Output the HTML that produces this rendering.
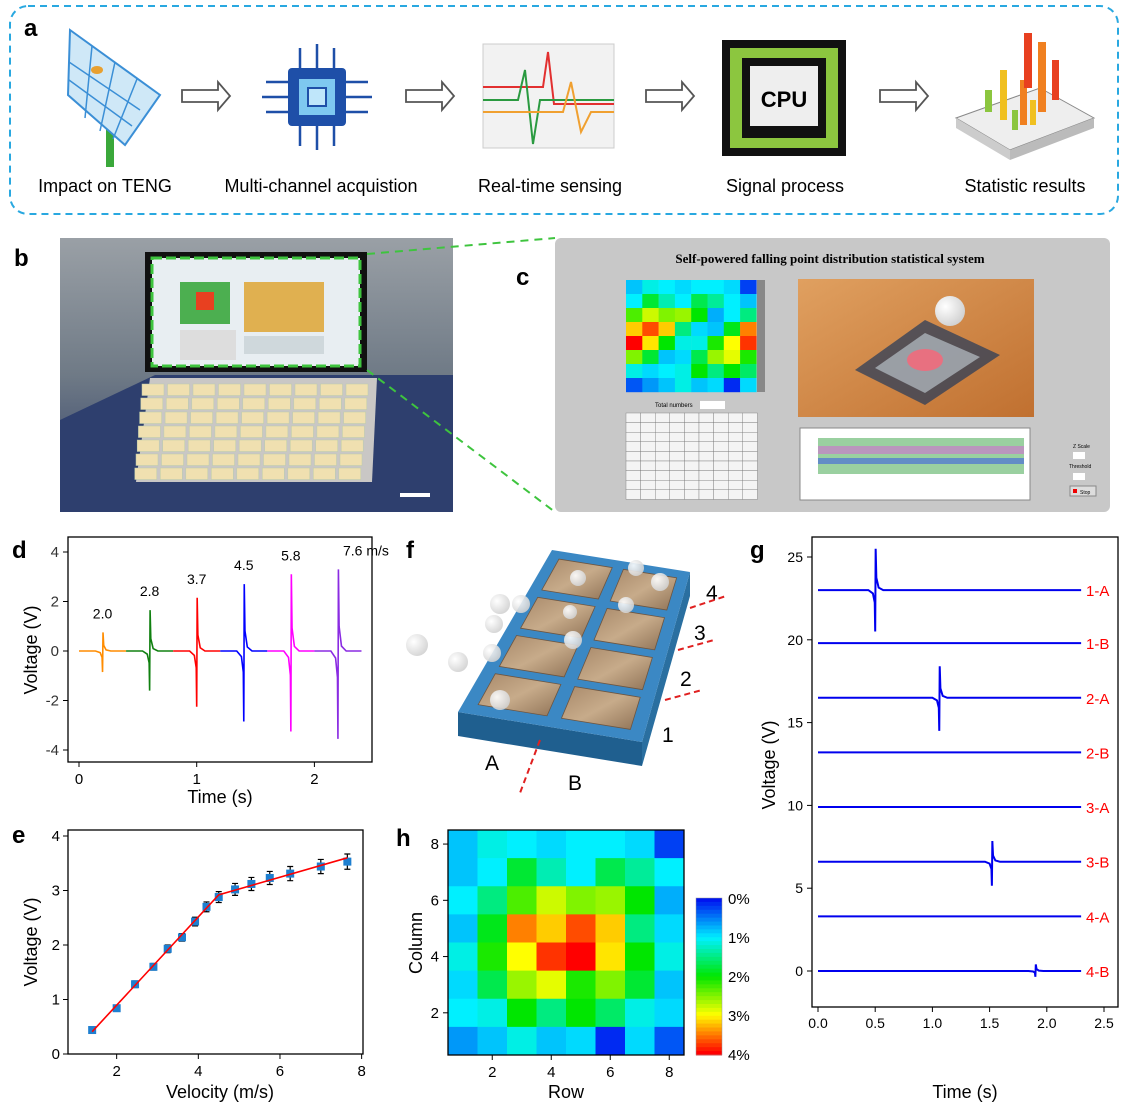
<!DOCTYPE html>
<html><head><meta charset="utf-8"><style>
body{margin:0;background:#fff;}
svg{display:block;font-family:"Liberation Sans",Arial,sans-serif;}
</style></head><body>
<svg id="fig" width="1125" height="1108" viewBox="0 0 1125 1108" xmlns="http://www.w3.org/2000/svg">
<defs>
<linearGradient id="wood" x1="0" y1="0" x2="1" y2="1"><stop offset="0" stop-color="#a8896a"/><stop offset="0.5" stop-color="#c7ab8a"/><stop offset="1" stop-color="#8f7256"/></linearGradient>
<radialGradient id="ball" cx="0.35" cy="0.35" r="0.7"><stop offset="0" stop-color="#fff"/><stop offset="1" stop-color="#d0d0d0"/></radialGradient>
<linearGradient id="photoBg" x1="0" y1="0" x2="0" y2="1"><stop offset="0" stop-color="#9aa0a6"/><stop offset="0.5" stop-color="#6f7a86"/><stop offset="1" stop-color="#2a3a66"/></linearGradient>
<linearGradient id="orangeImg" x1="0" y1="0" x2="1" y2="1"><stop offset="0" stop-color="#e0a060"/><stop offset="1" stop-color="#c07030"/></linearGradient>
</defs>

<!-- Panel a -->
<g>
<rect x="10" y="6" width="1108" height="208" rx="18" fill="none" stroke="#29a8e0" stroke-width="2" stroke-dasharray="7,5"/>
<text x="24" y="36" font-size="24" font-weight="bold">a</text>
<g>
<rect x="106" y="105" width="8" height="62" fill="#3aa83a"/>
<polygon points="70,30 160,95 125,145 68,95" fill="#cfe8f7" stroke="#3b8fd6" stroke-width="2"/>
<path d="M92,46 L85,118 M115,62 L100,131 M137,79 L113,139 M69,62 L140,110 M69,80 L132,126" stroke="#3b8fd6" stroke-width="1.5"/>
<ellipse cx="97" cy="70" rx="6" ry="4" fill="#e8a030"/>
</g>
<text x="105" y="192" font-size="18" text-anchor="middle">Impact on TENG</text>
<path d="M182,90 h36 v-8 l12,14 l-12,14 v-8 h-36z" fill="none" stroke="#555" stroke-width="1.8"/>
<g>
<rect x="288" y="68" width="58" height="58" rx="4" fill="#1e4fa8"/>
<rect x="298" y="78" width="38" height="38" fill="#7ec8f0" stroke="#1e4fa8" stroke-width="2"/>
<rect x="308" y="88" width="18" height="18" fill="#bfe6fa" stroke="#1e4fa8" stroke-width="2"/>
<path d="M300,68 v-20 M317,68 v-24 M334,68 v-20 M300,126 v20 M317,126 v24 M334,126 v20 M288,82 h-22 M288,97 h-26 M288,112 h-22 M346,82 h22 M346,97 h26 M346,112 h22" stroke="#1e4fa8" stroke-width="2.5"/>
</g>
<text x="321" y="192" font-size="18" text-anchor="middle">Multi-channel acquistion</text>
<path d="M406,90 h36 v-8 l12,14 l-12,14 v-8 h-36z" fill="none" stroke="#555" stroke-width="1.8"/>
<g>
<rect x="483" y="44" width="131" height="104" fill="#f2f2f2" stroke="#ccc"/>
<path d="M483,87 h60 l5,-35 l6,52 h60" stroke="#e23030" stroke-width="2" fill="none"/>
<path d="M483,100 h35 l7,-30 l8,74 l7,-44 h74" stroke="#2a9a40" stroke-width="2" fill="none"/>
<path d="M483,112 h80 l8,-30 l10,50 l10,-20 h23" stroke="#f0a030" stroke-width="2" fill="none"/>
</g>
<text x="550" y="192" font-size="18" text-anchor="middle">Real-time sensing</text>
<path d="M646,90 h36 v-8 l12,14 l-12,14 v-8 h-36z" fill="none" stroke="#555" stroke-width="1.8"/>
<g>
<rect x="722" y="40" width="124" height="116" fill="#111"/>
<rect x="730" y="48" width="108" height="100" fill="#8cc63f"/>
<rect x="742" y="58" width="84" height="80" fill="#111"/>
<rect x="750" y="66" width="68" height="60" fill="#eee"/>
<text x="784" y="107" font-size="22" font-weight="bold" text-anchor="middle">CPU</text>
</g>
<text x="785" y="192" font-size="18" text-anchor="middle">Signal process</text>
<path d="M880,90 h36 v-8 l12,14 l-12,14 v-8 h-36z" fill="none" stroke="#555" stroke-width="1.8"/>
<g>
<polygon points="956,118 1040,88 1094,118 1010,150" fill="#eee" stroke="#888"/>
<polygon points="956,118 1010,150 1010,160 956,128" fill="#ccc"/>
<polygon points="1010,150 1094,118 1094,128 1010,160" fill="#bbb"/>
<rect x="985" y="90" width="7" height="22" fill="#8cc63f"/><rect x="1000" y="70" width="7" height="50" fill="#f0c020"/>
<rect x="1020" y="80" width="7" height="45" fill="#f08020"/><rect x="1024" y="33" width="8" height="55" fill="#e84020"/>
<rect x="1038" y="42" width="8" height="70" fill="#f08020"/><rect x="1052" y="60" width="7" height="40" fill="#e84020"/>
<rect x="1012" y="110" width="6" height="20" fill="#8cc63f"/><rect x="1030" y="100" width="6" height="25" fill="#f0c020"/>
</g>
<text x="1025" y="192" font-size="18" text-anchor="middle">Statistic results</text>
</g>

<!-- Panel b -->
<g>
<text x="14" y="266" font-size="24" font-weight="bold">b</text>
<rect x="60" y="238" width="393" height="274" fill="url(#photoBg)"/>
<polygon points="60,512 60,420 155,375 453,375 453,512" fill="#2e3f6e"/>
<rect x="145" y="252" width="222" height="120" fill="#111"/>
<rect x="152" y="258" width="208" height="108" fill="#e8eef2" stroke="#3ec43e" stroke-width="3" stroke-dasharray="10,4"/>
<rect x="180" y="282" width="50" height="42" fill="#4caf50"/><rect x="196" y="292" width="18" height="18" fill="#e84020"/>
<rect x="244" y="282" width="80" height="50" fill="#e0b050"/>
<rect x="180" y="330" width="56" height="30" fill="#ddd"/><rect x="244" y="336" width="80" height="18" fill="#cfd8dc"/>
<polygon points="150,378 377,378 372,482 136,482" fill="#c9c7c5"/>
<g id="photoTiles"></g>
<rect x="400" y="493" width="30" height="4" fill="#fff"/>
</g>
<line x1="367" y1="254" x2="555" y2="238" stroke="#3ec43e" stroke-width="2" stroke-dasharray="8,6"/>
<line x1="367" y1="370" x2="555" y2="512" stroke="#3ec43e" stroke-width="2" stroke-dasharray="8,6"/>

<!-- Panel c -->
<g>
<rect x="555" y="238" width="555" height="274" rx="6" fill="#c8c8c8"/>
<text x="516" y="285" font-size="24" font-weight="bold">c</text>
<text x="830" y="263" font-size="13" font-weight="bold" font-family="Liberation Serif,serif" text-anchor="middle">Self-powered falling point distribution statistical system</text>
<g id="cHeat"></g>
<rect x="757" y="280" width="8" height="112" fill="#888"/>
<text x="655" y="407" font-size="6">Total numbers</text>
<rect x="700" y="401" width="25" height="8" fill="#fff"/>
<g id="cTable"></g>
<rect x="798" y="279" width="236" height="138" fill="url(#orangeImg)"/>
<polygon points="855,370 925,320 1000,355 925,405" fill="#2c3e5a" opacity="0.75"/>
<polygon points="875,368 925,333 980,357 925,393" fill="#b8c0c8" opacity="0.7"/>
<ellipse cx="925" cy="360" rx="18" ry="11" fill="#e87080"/>
<circle cx="950" cy="311" r="15" fill="url(#ball)"/>
<rect x="800" y="428" width="230" height="72" fill="#fff" stroke="#888"/>
<rect x="818" y="438" width="206" height="36" fill="#9ad0a0"/>
<rect x="818" y="446" width="206" height="8" fill="#d070d0" opacity="0.6"/>
<rect x="818" y="458" width="206" height="6" fill="#4060e0" opacity="0.6"/>
<text x="1073" y="448" font-size="5">Z Scale</text><rect x="1073" y="452" width="12" height="7" fill="#fff"/>
<text x="1069" y="468" font-size="5">Threshold</text><rect x="1073" y="473" width="12" height="7" fill="#fff"/>
<rect x="1070" y="486" width="26" height="10" fill="#ddd" stroke="#888"/>
<rect x="1073" y="489" width="4" height="4" fill="#e00"/><text x="1080" y="494" font-size="5">Stop</text>
</g>

<!-- Panel d -->
<g id="panelD">
<text x="12" y="558" font-size="24" font-weight="bold">d</text>
</g>
<!-- Panel e -->
<g id="panelE">
<text x="12" y="843" font-size="24" font-weight="bold">e</text>
</g>
<!-- Panel f -->
<g id="panelF">
<text x="406" y="558" font-size="24" font-weight="bold">f</text>
</g>
<!-- Panel h -->
<g id="panelH">
<text x="396" y="846" font-size="24" font-weight="bold">h</text>
</g>
<!-- Panel g -->
<g id="panelG">
<text x="750" y="558" font-size="24" font-weight="bold">g</text>
</g>
</svg>
<script>
const NS='http://www.w3.org/2000/svg';
function mk(tag,attrs,parent,txt){const e=document.createElementNS(NS,tag);for(const k in attrs)e.setAttribute(k,attrs[k]);if(txt!==undefined)e.textContent=txt;parent.appendChild(e);return e;}

// ---------- Data ----------
// panel d
const dSpikeTimes=[0.2,0.6,1.0,1.4,1.8,2.2];
const dSpikeMin=[-0.85,-1.6,-2.25,-2.85,-3.25,-3.55];
const dSpikeMax=[0.75,1.65,2.15,2.7,3.1,3.3];
const dLabels=['2.0','2.8','3.7','4.5','5.8','7.6 m/s'];
const dColors=['#ff8c00','#108010','#ff0000','#0000ff','#ff00ff','#8a2be2'];
const dXTicks=[0,1,2];
const dYTicks=[-4,-2,0,2,4];
// panel e
const eVelocity=[1.4,2.0,2.45,2.9,3.25,3.6,3.92,4.2,4.5,4.9,5.3,5.75,6.25,7.0,7.65];
const eVoltage=[0.44,0.84,1.28,1.6,1.93,2.14,2.43,2.7,2.88,3.02,3.12,3.23,3.31,3.44,3.53];
const eError=[0.04,0.05,0.06,0.06,0.07,0.07,0.08,0.09,0.1,0.11,0.12,0.12,0.13,0.13,0.14];
const eFitX=[1.4,4.5,7.65];
const eFitY=[0.41,2.92,3.6];
const eXTicks=[2,4,6,8];
const eYTicks=[0,1,2,3,4];
// panel g
const gChannels=['1-A','1-B','2-A','2-B','3-A','3-B','4-A','4-B'];
const gBaselines=[23.0,19.8,16.5,13.2,9.9,6.6,3.3,0];
const gSpikeTime=[0.5,null,1.06,null,null,1.52,null,1.9];
const gSpikeMin=[-2.5,0,-2.0,0,0,-1.45,0,-0.35];
const gSpikeMax=[2.5,0,1.9,0,0,1.25,0,0.4];
const gXTicks=[0,0.5,1.0,1.5,2.0,2.5];
const gYTicks=[0,5,10,15,20,25];
// panel h (rows top=column 8 to bottom=column 1; values in %)
const hValues=[
[0.8,1.1,1.0,0.9,1.0,1.0,0.9,0.2],
[0.8,1.0,1.8,1.3,1.0,1.7,1.4,1.0],
[1.0,1.5,2.3,2.8,2.5,2.6,2.0,0.7],
[0.8,1.9,3.5,3.2,3.7,3.2,1.5,0.9],
[1.1,2.1,3.0,3.8,4.0,3.1,2.0,1.1],
[0.9,1.7,2.6,2.9,2.1,2.5,1.8,0.8],
[1.0,1.1,2.0,1.5,2.0,1.6,1.1,0.9],
[0.6,0.8,1.1,0.8,0.9,0.1,0.9,0.3]];
const hXTicks=[2,4,6,8];
const hYTicks=[2,4,6,8];
const hCbarLabels=['0%','1%','2%','3%','4%'];

// colormap 0..4
function cmap(v){const stops=[[0,[0,20,240]],[1,[0,240,255]],[2,[0,230,0]],[3,[255,255,0]],[4,[255,0,0]]];
 v=Math.max(0,Math.min(4,v));let i=Math.min(3,Math.floor(v));const t=v-i;const a=stops[i][1],b=stops[i+1][1];
 return 'rgb('+a.map((c,k)=>Math.round(c+(b[k]-c)*t)).join(',')+')';}

function axesFrame(g,x0,y0,x1,y1,name){const r=mk('rect',{x:x0,y:y0,width:x1-x0,height:y1-y0,fill:'none',stroke:'#000','stroke-width':1.3},g);

}
function spikePath(sx,sy,t,base,mn,mx){
 return ' L'+sx(t-0.06)+','+sy(base)+' L'+sx(t-0.02)+','+sy(base+mn*0.08)+' L'+sx(t-0.004)+','+sy(base+mn*0.3)+' L'+sx(t)+','+sy(base+mn)+' L'+sx(t+0.004)+','+sy(base+mx)+' L'+sx(t+0.01)+','+sy(base+mx*0.3)+' L'+sx(t+0.03)+','+sy(base+mx*0.06)+' L'+sx(t+0.07)+','+sy(base);}

// ---------- Panel d ----------
(function(){const g=document.getElementById('panelD');
const X0=68,Y0=537,X1=372,Y1=762;const sx=v=>79+v*117.7, sy=v=>651-v*24.75;
axesFrame(g,X0,Y0,X1,Y1,'d-plot-frame');
dXTicks.forEach(v=>{const l=mk('line',{x1:sx(v),x2:sx(v),y1:Y1,y2:Y1+5,stroke:'#000'},g);
 const t=mk('text',{x:sx(v),y:Y1+22,'font-size':15,'text-anchor':'middle'},g,String(v));});
dYTicks.forEach(v=>{const l=mk('line',{x1:X0-5,x2:X0,y1:sy(v),y2:sy(v),stroke:'#000'},g);
 const t=mk('text',{x:X0-9,y:sy(v)+5,'font-size':15,'text-anchor':'end',fill:'#333'},g,String(v));});
dSpikeTimes.forEach((t,i)=>{const s=t-0.2,e=t+0.2;let d='M'+sx(s)+','+sy(0);d+=spikePath(sx,sy,t,0,dSpikeMin[i],dSpikeMax[i]);d+=' L'+sx(e)+','+sy(0);
 const p=mk('path',{d:d,fill:'none',stroke:dColors[i],'stroke-width':1.6},g);
 const lb=mk('text',{x:sx(t)+(i==5?28:0),y:sy(dSpikeMax[i])-14,'font-size':14,'text-anchor':'middle'},g,dLabels[i]);});
const xt=mk('text',{x:220,y:803,'font-size':18,'text-anchor':'middle'},g,'Time (s)');
const yt=mk('text',{x:0,y:0,'font-size':18,'text-anchor':'middle',transform:'translate(37,650) rotate(-90)'},g,'Voltage (V)');
})();

// ---------- Panel e ----------
(function(){const g=document.getElementById('panelE');
const X0=68,Y0=830,X1=363,Y1=1054;const sx=v=>35+v*40.83, sy=v=>1054-v*54.5;
axesFrame(g,X0,Y0,X1,Y1,'e-plot-frame');
eXTicks.forEach(v=>{const l=mk('line',{x1:sx(v),x2:sx(v),y1:Y1,y2:Y1+5,stroke:'#000'},g);
 const t=mk('text',{x:sx(v),y:Y1+22,'font-size':15,'text-anchor':'middle'},g,String(v));});
eYTicks.forEach(v=>{const l=mk('line',{x1:X0-5,x2:X0,y1:sy(v),y2:sy(v),stroke:'#000'},g);
 const t=mk('text',{x:X0-8,y:sy(v)+5,'font-size':15,'text-anchor':'end'},g,String(v));});
eVelocity.forEach((v,i)=>{const x=sx(v),y=sy(eVoltage[i]),e=eError[i]*54.5;
 const eb=mk('path',{d:'M'+x+','+(y-e)+'V'+(y+e)+'M'+(x-3)+','+(y-e)+'h6M'+(x-3)+','+(y+e)+'h6',stroke:'#000','stroke-width':1.2},g);
 const r=mk('rect',{x:x-4,y:y-4,width:8,height:8,fill:'#1e7fd0'},g);});
const fit=mk('polyline',{points:eFitX.map((v,i)=>sx(v)+','+sy(eFitY[i])).join(' '),fill:'none',stroke:'#ff0000','stroke-width':1.6},g);
const xt=mk('text',{x:220,y:1098,'font-size':18,'text-anchor':'middle'},g,'Velocity (m/s)');
const yt=mk('text',{x:0,y:0,'font-size':18,'text-anchor':'middle',transform:'translate(37,942) rotate(-90)'},g,'Voltage (V)');
})();

// ---------- Panel g ----------
(function(){const g=document.getElementById('panelG');
const X0=812,Y0=537,X1=1118,Y1=1007;const sx=v=>818+v*114.4, sy=v=>971-v*16.56;
axesFrame(g,X0,Y0,X1,Y1,'g-plot-frame');
gXTicks.forEach(v=>{const l=mk('line',{x1:sx(v),x2:sx(v),y1:Y1,y2:Y1+5,stroke:'#000'},g);
 const t=mk('text',{x:sx(v),y:Y1+21,'font-size':14,'text-anchor':'middle'},g,v.toFixed(1));});
gYTicks.forEach(v=>{const l=mk('line',{x1:X0-5,x2:X0,y1:sy(v),y2:sy(v),stroke:'#000'},g);
 const t=mk('text',{x:X0-9,y:sy(v)+5,'font-size':14,'text-anchor':'end'},g,String(v));});
gChannels.forEach((c,i)=>{const b=gBaselines[i];let d='M'+sx(0)+','+sy(b);
 if(gSpikeTime[i]!==null)d+=spikePath(sx,sy,gSpikeTime[i],b,gSpikeMin[i],gSpikeMax[i]);
 d+=' L'+sx(2.3)+','+sy(b);
 const p=mk('path',{d:d,fill:'none',stroke:'#0000ee','stroke-width':2},g);
 const t=mk('text',{x:1086,y:sy(b)+6,'font-size':15,fill:'#ff0000'},g,c);});
const xt=mk('text',{x:965,y:1098,'font-size':18,'text-anchor':'middle'},g,'Time (s)');
const yt=mk('text',{x:0,y:0,'font-size':18,'text-anchor':'middle',transform:'translate(775,765) rotate(-90)'},g,'Voltage (V)');
})();

// ---------- Panel h ----------
(function(){const g=document.getElementById('panelH');
const X0=448,Y0=830,X1=684,Y1=1055;const cw=(X1-X0)/8,ch=(Y1-Y0)/8;
hValues.forEach((row,r)=>row.forEach((v,c)=>{const e=mk('rect',{x:X0+c*cw,y:Y0+r*ch,width:cw+0.5,height:ch+0.5,fill:cmap(v)},g);}));
axesFrame(g,X0,Y0,X1,Y1,'h-plot-frame');
const sx=v=>X0+(v-0.5)*cw, sy=v=>Y1-(v-0.5)*ch;
hXTicks.forEach(v=>{const l=mk('line',{x1:sx(v),x2:sx(v),y1:Y1,y2:Y1+5,stroke:'#000'},g);
 const t=mk('text',{x:sx(v),y:Y1+22,'font-size':15,'text-anchor':'middle'},g,String(v));});
hYTicks.forEach(v=>{const l=mk('line',{x1:X0-5,x2:X0,y1:sy(v),y2:sy(v),stroke:'#000'},g);
 const t=mk('text',{x:X0-9,y:sy(v)+5,'font-size':15,'text-anchor':'end'},g,String(v));});
const cb=mk('g',{},g);
for(let k=0;k<40;k++){mk('rect',{x:696,y:898+k*157/40,width:26,height:157/40+0.5,fill:cmap(k/39*4)},cb);}
mk('rect',{x:696,y:898,width:26,height:157,fill:'none',stroke:'#999','stroke-width':0.5},cb);
hCbarLabels.forEach((s,i)=>{const t=mk('text',{x:728,y:904+i*39,'font-size':15},g,s);});
const xt=mk('text',{x:566,y:1098,'font-size':18,'text-anchor':'middle'},g,'Row');
const yt=mk('text',{x:0,y:0,'font-size':18,'text-anchor':'middle',transform:'translate(422,943) rotate(-90)'},g,'Column');
})();

// ---------- Panel f (illustration) ----------
(function(){const g=document.getElementById('panelF');
const NL=[458,712],NR=[642,742],FR=[690,572],FL=[552,550];
function P(u,v){const a=[NL[0]+(NR[0]-NL[0])*u,NL[1]+(NR[1]-NL[1])*u],b=[FL[0]+(FR[0]-FL[0])*u,FL[1]+(FR[1]-FL[1])*u];return [a[0]+(b[0]-a[0])*v,a[1]+(b[1]-a[1])*v];}
const side=mk('polygon',{points:[NL,NR,[NR[0],NR[1]+24],[NL[0],NL[1]+24]].map(p=>p.join(',')).join(' '),fill:'#1f5f8f'},g);
const side2=mk('polygon',{points:[NR,FR,[FR[0],FR[1]+24],[NR[0],NR[1]+24]].map(p=>p.join(',')).join(' '),fill:'#2a6fa0'},g);
const top=mk('polygon',{points:[NL,NR,FR,FL].map(p=>p.join(',')).join(' '),fill:'#3b88c4'},g);
[[0.08,0.46],[0.54,0.92]].forEach(U=>{for(let k=0;k<4;k++){const v0=0.06+k*0.235,v1=v0+0.19;
 const pts=[P(U[0],v0),P(U[1],v0),P(U[1],v1),P(U[0],v1)];
 const t=mk('polygon',{points:pts.map(p=>p.join(',')).join(' '),fill:'url(#wood)',stroke:'#6d5540','stroke-width':0.8},g);}});
[[417,645,11],[458,662,10],[492,653,9],[494,624,9],[500,604,10],[521,604,9],[500,700,10],[573,640,9],[626,605,8],[660,582,9],[636,568,8],[578,578,8],[570,612,7]].forEach(b=>{const c=mk('circle',{cx:b[0],cy:b[1],r:b[2],fill:'url(#ball)',opacity:0.9},g);});
[['4',706,600],['3',694,640],['2',680,686],['1',662,742],['A',485,770],['B',568,790]].forEach(l=>{const t=mk('text',{x:l[1],y:l[2],'font-size':21},g,l[0]);});
[[690,608,726,596],[678,650,714,640],[665,700,702,690],[540,740,520,793]].forEach(l=>{const d=mk('line',{x1:l[0],y1:l[1],x2:l[2],y2:l[3],stroke:'#e02020','stroke-width':2,'stroke-dasharray':'6,4'},g);});
})();

// ---------- Panel b/c decorations ----------
(function(){const g=document.getElementById('photoTiles');
for(let r=0;r<7;r++)for(let c=0;c<9;c++){const yT=384+r*14,xL=142+c*25.5-r*1.2;
 const t=mk('rect',{x:xL,y:yT,width:22,height:11.5,fill:'#f0e0b0',stroke:'#bca',"stroke-width":0.5},g);}
const h=document.getElementById('cHeat');
hValues.forEach((row,r)=>row.forEach((v,c)=>{const e=mk('rect',{x:626+c*16.3,y:280+r*14,width:16.5,height:14.2,fill:cmap(row[(c+r)%8])},h);}));
const tb=document.getElementById('cTable');
for(let r=0;r<9;r++)for(let c=0;c<9;c++){const e=mk('rect',{x:626+c*14.6,y:413+r*9.6,width:14.6,height:9.6,fill:'#f4f4f4',stroke:'#777','stroke-width':0.4},tb);}
})();
</script>
</body></html>
